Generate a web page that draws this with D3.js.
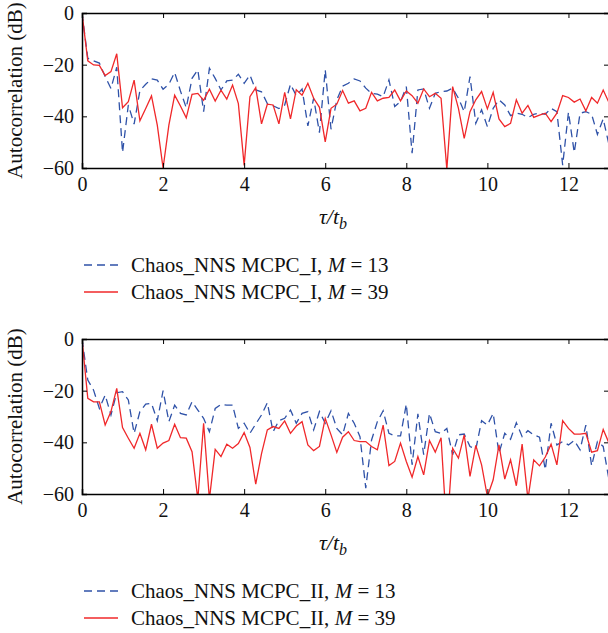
<!DOCTYPE html>
<html>
<head>
<meta charset="utf-8">
<script src="https://cdn.jsdelivr.net/npm/d3@7"></script>
<style>
  body { margin: 0; background: #fff; }
  svg text { fill: #111; }
</style>
</head>
<body>
<svg id="chart" width="608" height="633"></svg>
<script>
// samples every 1/7 of a bit, tau/tb from 0 to 13
var tauStep = 1 / 7;
var xTicks = [0, 2, 4, 6, 8, 10, 12];
var yTicks = [0, -20, -40, -60];

var topBlue = [0, -17.5, -18.5, -19.4, -24.6, -29.2, -21, -54, -35.6, -43,
  -30, -27.6, -25.5, -26, -29.5, -27.6, -23, -30.2, -36.7, -25.3,
  -22, -38.2, -21.4, -25.3, -29.8, -26.3, -26, -23.7, -27.2, -24,
  -29.8, -30.5, -35, -35.9, -37, -35.6, -27.6, -32, -29.4, -43.7,
  -33, -46.3, -22, -45, -33.7, -28.3, -27.2, -25.5, -26.3, -29.1,
  -31.1, -31.4, -32.4, -25.9, -36.2, -34.3, -28.5, -54.3, -29.8, -29.4,
  -36.9, -31.1, -30.4, -30.2, -29.1, -33, -38.2, -24.6, -42.7, -37.5,
  -44, -36.9, -33.6, -35.6, -39.7, -38.8, -39.2, -40.5, -39.2, -38.8,
  -39.2, -36.9, -38.2, -58.9, -38.4, -54, -38.8, -38.2, -39.2, -47,
  -41, -51];
var topRed = [0, -18.5, -20.1, -20.3, -24.2, -22.7, -15.8, -36.7, -34.3, -26,
  -41.7, -37, -32.1, -43.4, -60, -43.4, -31.8, -36, -40.6, -31.5,
  -31.1, -33.8, -29.5, -34.1, -29.9, -33.3, -27.9, -35.1, -59, -32.4,
  -28.9, -42.9, -35.3, -35.6, -42.9, -30.7, -41, -29.7, -31.8, -27.2,
  -33, -36.5, -49.9, -36.9, -35.3, -30, -34.9, -34, -37.9, -36.9,
  -30.7, -34, -33, -32.7, -29.8, -34, -30.2, -32, -34.9, -29.4,
  -32.4, -31.1, -33, -60.5, -28.5, -36.9, -48.5, -38.2, -33.6, -30.4,
  -37.1, -30.7, -41, -44, -42.7, -33.6, -38.8, -35.8, -40.4, -39.5,
  -38.8, -42, -38.8, -32, -32.7, -34.5, -33.3, -37.9, -32.7, -34.9,
  -29.8, -34.7];
var botBlue = [0, -15.9, -19.8, -26.9, -21.7, -29.4, -20.8, -20.4, -23.6, -36.5,
  -28.1, -25.2, -24.9, -31.6, -20, -32, -25.6, -28.8, -29.4, -24.3,
  -27.5, -30.7, -35.9, -26.9, -25.3, -25.6, -25.6, -34.6, -32.6, -36.5,
  -32.9, -29.4, -24.7, -35.9, -31.6, -30.7, -27.5, -32.6, -28.8, -28.1,
  -35.2, -28.1, -32.6, -27.8, -34.6, -37.1, -28.8, -32.6, -37.8, -57.7,
  -39.1, -32, -27.8, -36.5, -37.5, -37.5, -25.2, -48.7, -29, -44.8,
  -28.8, -35.9, -36.5, -34.6, -44.8, -37.1, -36.8, -41.6, -42.7, -31.6,
  -33.3, -28.8, -44.2, -36.5, -38.8, -32.4, -37.8, -35.5, -37.1, -38,
  -50.6, -32.6, -41, -39.7, -41, -39.3, -42.9, -33.3, -49.1, -39.7,
  -41.6, -54.5];
var botRed = [0, -23, -24.3, -24.3, -33.3, -28.1, -19.1, -34.3, -38.4, -42.3,
  -36.5, -42.9, -33, -42.3, -40.3, -39.3, -33, -38.2, -38.4, -43.6,
  -62, -32.6, -62, -42.7, -45.5, -40.7, -42.3, -40.5, -36.2, -42,
  -56.2, -44.4, -35.2, -33.9, -34.6, -31.7, -36.5, -33.7, -32, -41,
  -43.2, -41.6, -30.7, -37.1, -43.9, -38, -35.9, -39.3, -39.7, -39.7,
  -41.6, -42.9, -33.3, -49, -47.4, -40.3, -47.4, -53.5, -45.5, -52.6,
  -39.3, -43.8, -38.2, -75, -42.3, -46.1, -37.1, -53.2, -41.2, -48.7,
  -61, -54.5, -41, -54.2, -46.8, -56.8, -40.7, -62, -46.8, -49.1,
  -45.7, -40.7, -48.7, -31.6, -34.6, -36.8, -36.8, -36.5, -43.8, -43.2,
  -35, -40.3];

var topLabels = ["Chaos_NNS MCPC_I, ", "Chaos_NNS MCPC_I, "];
var botLabels = ["Chaos_NNS MCPC_II, ", "Chaos_NNS MCPC_II, "];
var mValues = [13, 39];

var blue = "#2f52a8", red = "#f0282a";
var serif = "'Liberation Serif', 'Times New Roman', Times, serif";
var svg = d3.select("#chart");
var x = d3.scaleLinear().domain([0, 13]).range([82, 609]);

function drawPanel(id, top, blueVals, redVals, labels)
{
    var bottom = top + 155;
    var y = d3.scaleLinear().domain([-60, 0]).range([bottom, top]);
    var g = svg.append("g").attr("id", id).attr("font-family", serif);

    g.append("clipPath").attr("id", id + "clip")
        .append("rect").attr("x", x(0)).attr("y", top)
        .attr("width", x(13) - x(0)).attr("height", bottom - top);

    var line = d3.line()
        .x(function(d, i) { return x(i * tauStep); })
        .y(function(d) { return y(d); });

    var lines = g.append("g").attr("clip-path", "url(#" + id + "clip)");
    lines.append("path").datum(blueVals).attr("d", line)
        .attr("fill", "none").attr("stroke", blue).attr("stroke-width", 1.3)
        .attr("stroke-dasharray", "8,5");
    lines.append("path").datum(redVals).attr("d", line)
        .attr("fill", "none").attr("stroke", red).attr("stroke-width", 1.3);

    g.append("g").attr("transform", "translate(0," + bottom + ")")
        .call(d3.axisBottom(x).tickValues(xTicks).tickSize(-5).tickPadding(9));
    g.append("g").attr("transform", "translate(0," + top + ")")
        .call(d3.axisTop(x).tickValues(xTicks).tickSize(-5).tickFormat(""));
    g.append("g").attr("transform", "translate(" + x(0) + ",0)")
        .call(d3.axisLeft(y).tickValues(yTicks).tickSize(-5).tickPadding(8));
    g.append("g").attr("transform", "translate(" + x(13) + ",0)")
        .call(d3.axisRight(y).tickValues(yTicks).tickSize(-5).tickFormat(""));

    g.selectAll(".domain").attr("stroke", "#000").attr("stroke-width", 1.5);
    g.selectAll(".tick line").attr("stroke", "#000").attr("stroke-width", 1);
    g.selectAll(".tick text").attr("font-family", serif).attr("font-size", 20).attr("fill", "#111");

    g.append("text")
        .attr("transform", "translate(22," + (top + bottom) / 2 + ") rotate(-90)")
        .attr("text-anchor", "middle").attr("font-size", 21)
        .text("Autocorrelation (dB)");

    var t = g.append("text").attr("x", 333).attr("y", bottom + 56)
        .attr("text-anchor", "middle").attr("font-size", 22).attr("font-style", "italic");
    t.append("tspan").text("τ/t");
    t.append("tspan").attr("dy", 5).attr("font-size", 16).text("b");

    var legY = [bottom + 97, bottom + 124];
    var colors = [blue, red];
    legY.forEach(function(ly, k) {
        g.append("line").attr("x1", 84).attr("x2", 118).attr("y1", ly).attr("y2", ly)
            .attr("stroke", colors[k]).attr("stroke-width", 1.3)
            .attr("stroke-dasharray", k == 0 ? "8,5" : null);
        var lt = g.append("text").attr("x", 131).attr("y", ly + 7).attr("font-size", 21);
        lt.append("tspan").text(labels[k]);
        lt.append("tspan").attr("font-style", "italic").text("M");
        lt.append("tspan").text(" = " + mValues[k]);
    });
}

drawPanel("p1", 13, topBlue, topRed, topLabels);
drawPanel("p2", 339, botBlue, botRed, botLabels);
</script>
</body>
</html>
